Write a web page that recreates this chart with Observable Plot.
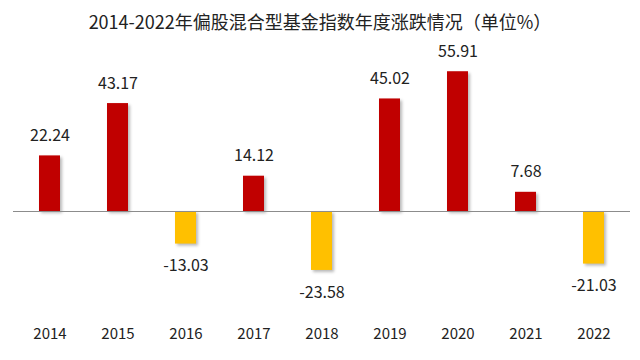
<!DOCTYPE html>
<html>
<head>
<meta charset="utf-8">
<script src="https://cdn.jsdelivr.net/npm/d3@7"></script>
<script src="https://cdn.jsdelivr.net/npm/@observablehq/plot@0.6"></script>
<style>
  html, body { margin: 0; padding: 0; background: #fff; }
  #wrap { width: 640px; height: 360px; overflow: hidden; }
  #title {
    height: 30px; line-height: 42px; text-align: center; overflow: visible;
    font-family: "Liberation Sans Narrow", "Noto Sans CJK SC", sans-serif;
    font-size: 18px; color: #222; white-space: nowrap;
  }
  #chart g[aria-label="bar"] rect { filter: drop-shadow(2px 2px 1.5px rgba(0,0,0,0.28)); }
</style>
</head>
<body>
<div id="wrap">
  <div id="title">2014-2022年偏股混合型基金指数年度涨跌情况（单位%）</div>
  <div id="chart"></div>
</div>
<script>
const years = ["2014","2015","2016","2017","2018","2019","2020","2021","2022"];
const returns = [22.24, 43.17, -13.03, 14.12, -23.58, 45.02, 55.91, 7.68, -21.03];
const posColor = "#C00000";
const negColor = "#FFC000";

const data = years.map((y, i) => ({year: y, value: returns[i]}));
const fmt = d => d.value.toFixed(2);

const chart = Plot.plot({
  width: 640,
  height: 330,
  marginTop: 30,
  marginBottom: 50,
  marginLeft: 13,
  marginRight: 10,
  style: {fontFamily: '"Liberation Sans Narrow", "Noto Sans CJK SC", sans-serif', color: "#222", background: "#fff", overflow: "visible"},
  x: {domain: years, paddingInner: 0.694, paddingOuter: 0.337, axis: null},
  y: {domain: [-39.6, 60.4], axis: null},
  marks: [
    Plot.barY(data, {x: "year", y: "value", fill: d => d.value >= 0 ? posColor : negColor}),
    Plot.ruleY([0], {stroke: "#8c8c8c", strokeWidth: 1}),
    Plot.text(data.filter(d => d.value >= 0), {x: "year", y: "value", text: fmt, dy: -20, fontSize: 16, fill: "#222"}),
    Plot.text(data.filter(d => d.value < 0), {x: "year", y: "value", text: fmt, dy: 22, fontSize: 16, fill: "#222"}),
    Plot.axisX({anchor: "bottom", tickSize: 0, tickPadding: 18, fontSize: 15, fill: "#222", label: null})
  ]
});
document.getElementById("chart").appendChild(chart);
</script>
</body>
</html>
